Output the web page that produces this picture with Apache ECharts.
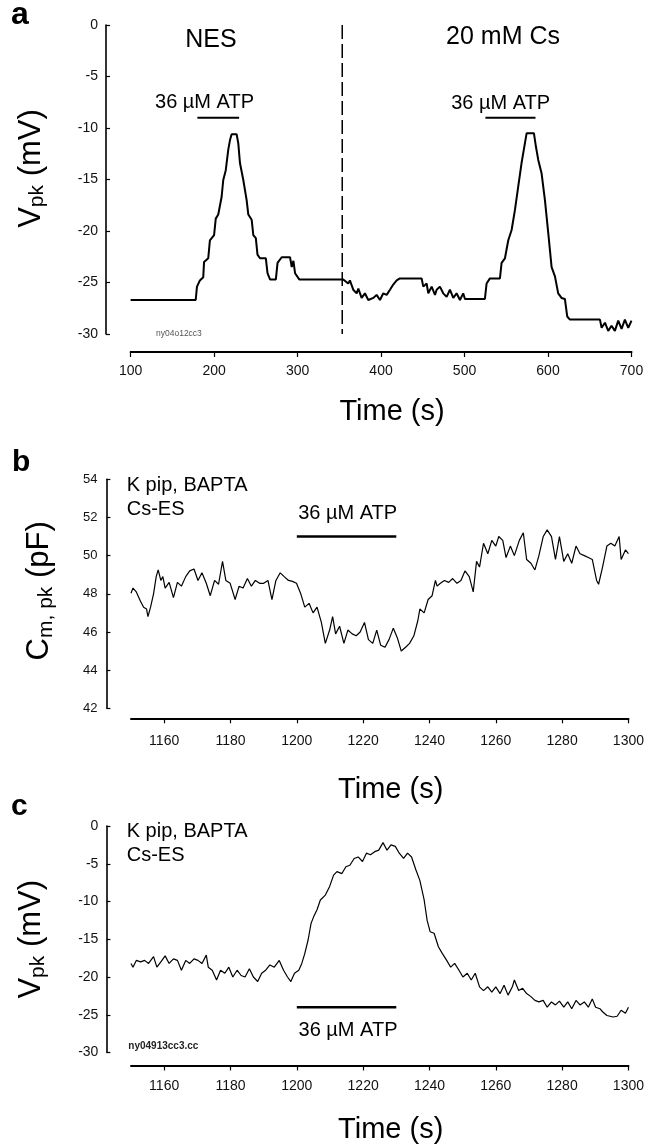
<!DOCTYPE html>
<html>
<head>
<meta charset="utf-8">
<script src="https://cdn.jsdelivr.net/npm/echarts@6/dist/echarts.min.js"></script>
<style>
html,body{margin:0;padding:0;background:#fff;}
#chart{width:647px;height:1148px;}
</style>
</head>
<body>
<div id="chart"></div>
<script>
// ---------- DATA ----------
// Panel a: Vpk (mV) vs time (s)
const panelA = [
  [100,-26.7],[178,-26.7],[179.5,-25.4],[183,-24.8],[187,-24.5],[188,-23.0],[193,-22.65],[195,-20.9],
  [200,-20.4],[202,-18.8],[205,-18.4],[209,-16.7],[211,-15.05],[214,-14.1],[217,-12.1],[219,-11.2],
  [221,-10.6],[227,-10.6],[229,-11.5],[231,-13.4],[235,-15.05],[239,-17.0],[241,-18.4],[245,-18.9],
  [247,-20.4],[250,-20.7],[252,-22.3],[255,-22.65],[262,-22.65],[264,-24.1],[267,-24.7],[274,-24.7],
  [276,-23.1],[281,-22.55],[291,-22.55],[293,-23.5],[295,-22.9],[297,-24.1],[299,-24.0],[302,-24.7],
  [354.7,-24.7],[360.7,-25.1],[362.7,-24.8],[366.7,-25.7],[370.8,-26.05],[372.8,-25.6],[376.7,-26.5],
  [380.7,-26.05],[384.7,-26.7],[390.7,-26.5],[394.7,-26.2],[398.7,-26.7],[402.7,-26.05],[406.7,-26.2],
  [410.7,-25.7],[414.6,-25.2],[418.7,-24.8],[422.6,-24.6],[448.6,-24.6],[450.6,-25.4],[454.6,-25.1],
  [456.6,-26.05],[460.6,-25.4],[464.6,-26.2],[466.6,-25.7],[470.5,-25.4],[474.5,-26.05],[478.6,-26.4],
  [482.5,-25.7],[486.5,-26.5],[490.5,-26.05],[494.5,-26.7],[498.4,-26.05],[500.5,-26.6],[524.4,-26.6],
  [526.4,-25.1],[530.4,-24.6],[542.4,-24.6],[544.4,-23.1],[548.4,-22.65],[552.4,-20.9],[556.4,-19.9],
  [560.3,-18.0],[564.3,-15.7],[568.3,-13.4],[572.3,-11.5],[574.4,-10.5],[583.1,-10.5],[585.5,-11.8],
  [588.3,-13.1],[592.3,-14.4],[596.3,-17.0],[600.3,-20.2],[604.3,-23.5],[608.3,-24.4],[612.2,-26.05],
  [616.2,-26.5],[620.2,-26.6],[623,-28.3],[626.2,-28.6],[662.2,-28.6],[664.2,-29.4],[668.2,-28.9],
  [672.1,-29.7],[676.1,-29.2],[680.1,-29.7],[684.1,-28.7],[688.1,-29.5],[692.1,-28.6],[696.1,-29.4],
  [700,-28.7]
];
const solutionSwitchA = [[353.5, 0], [353.5, -30]];
const atpBarA1 = [[180, -9], [230, -9]];
const atpBarA2 = [[525, -9], [585, -9]];

// Panel b: Cm,pk (pF) vs time (s)
const panelB = [
  [1150,48.03],[1150.6,48.3],[1151.6,48.1],[1152.9,47.6],[1153.8,47.3],[1154.7,47.2],[1155.1,46.8],
  [1155.9,47.3],[1156.8,48.0],[1157.6,48.9],[1158.2,49.25],[1159,48.7],[1159.6,48.9],[1160.3,48.3],
  [1161.5,48.6],[1162.8,47.8],[1164,48.6],[1165.2,48.4],[1166.5,48.9],[1167.7,49.2],[1169,49.3],
  [1170.2,48.7],[1171.4,49.1],[1172.7,48.55],[1173.9,47.9],[1175.2,48.7],[1176.4,48.5],[1177.6,49.7],
  [1178.6,48.7],[1179.9,48.55],[1181.4,47.7],[1182.6,48.4],[1183.8,48.3],[1185.1,48.8],[1186.3,48.4],
  [1187.5,48.7],[1188.8,48.55],[1190,48.55],[1191.3,48.7],[1192.5,47.7],[1193.7,48.7],[1195,49.1],
  [1196.2,48.9],[1197.5,48.7],[1198.7,48.65],[1199.9,48.55],[1201.2,48.0],[1202.4,47.3],[1203.7,47.5],
  [1204.9,47.0],[1206.1,47.3],[1207.4,46.5],[1208.6,45.4],[1209.9,46.1],[1210.8,46.8],[1211.7,45.9],
  [1212.9,46.3],[1214.2,45.4],[1215.4,46.1],[1216.7,45.9],[1217.9,45.8],[1219.1,46.0],[1220.4,46.5],
  [1221.6,45.6],[1222.9,45.4],[1224.1,46.1],[1225.3,45.3],[1226.6,45.2],[1227.8,45.6],[1229.1,46.2],
  [1230.3,45.7],[1231.5,45.0],[1232.8,45.2],[1234,45.4],[1235.3,45.8],[1236.5,46.6],[1237.1,47.2],
  [1238.4,47.0],[1239.6,47.7],[1240.8,47.9],[1241.8,48.7],[1242.3,48.4],[1243.3,48.55],[1244.5,48.7],
  [1245.8,48.6],[1247,48.8],[1248.3,48.55],[1249.5,48.7],[1250.7,49.2],[1252,48.9],[1253.2,48.1],
  [1254.2,49.7],[1255.1,49.4],[1256.3,50.65],[1257.6,50.1],[1258.8,50.8],[1260,50.5],[1260.9,51.0],
  [1262.1,50.8],[1263.1,49.9],[1264.4,50.5],[1265.6,50.0],[1267.1,50.8],[1268.3,51.2],[1269.3,49.8],
  [1270.6,49.6],[1271.8,49.25],[1273,50.0],[1274.3,51.0],[1275.5,51.35],[1276.8,51.0],[1278,49.8],
  [1279.2,51.0],[1280.5,49.7],[1281.7,50.1],[1282.9,49.6],[1284.2,50.5],[1285.4,50.1],[1286.7,50.0],
  [1287.9,49.9],[1289.1,49.8],[1290.4,48.7],[1291,48.5],[1292.2,49.4],[1293.5,50.5],[1294.7,50.65],
  [1295.9,50.5],[1297.2,51.0],[1297.8,49.8],[1299.1,50.3],[1300,50.1]
];
const atpBarB = [[1200, 51], [1230, 51]];

// Panel c: Vpk (mV) vs time (s)
const panelC = [
  [1150,-18.2],[1150.6,-18.7],[1151.6,-17.8],[1152.9,-18.0],[1154.1,-17.8],[1155.3,-18.2],[1156.8,-17.3],
  [1157.8,-18.7],[1159,-18.0],[1160.3,-17.2],[1161.5,-18.2],[1162.8,-17.6],[1164,-17.8],[1165.2,-19.1],
  [1166.5,-17.8],[1167.7,-18.2],[1169,-17.6],[1170.2,-17.8],[1171.4,-18.2],[1172.7,-17.1],[1173.3,-18.7],
  [1174.5,-19.1],[1175.8,-20.4],[1177,-19.1],[1178.3,-19.5],[1179.5,-18.7],[1180.7,-20.0],[1182,-19.1],
  [1183.2,-19.8],[1184.4,-20.0],[1185.7,-18.9],[1186.9,-20.0],[1188.2,-20.6],[1189.4,-19.5],[1190.6,-19.1],
  [1191.9,-18.4],[1193.2,-18.7],[1194.7,-17.8],[1196,-19.1],[1197.2,-20.0],[1198.2,-20.6],[1199.3,-19.5],
  [1200.6,-19.1],[1201.5,-18.2],[1202.4,-16.9],[1203.4,-15.1],[1204.3,-12.9],[1205.1,-12.0],[1206.1,-11.1],
  [1207.1,-9.8],[1208.6,-9.15],[1209.9,-8.0],[1211.1,-6.5],[1212.1,-6.05],[1213.6,-6.3],[1214.8,-5.4],
  [1216,-5.2],[1217.3,-4.3],[1218.5,-4.1],[1219.8,-4.7],[1221,-3.6],[1222.2,-3.8],[1223.5,-3.4],
  [1224.7,-3.2],[1226,-2.2],[1227.2,-3.2],[1228.4,-2.5],[1229.7,-2.7],[1230.9,-3.6],[1232.2,-4.3],
  [1233.4,-3.6],[1234.6,-4.1],[1235.9,-5.8],[1237.1,-7.2],[1238.4,-9.8],[1239.3,-12.5],[1240.2,-14.0],
  [1241.4,-14.2],[1242.7,-16.0],[1243.9,-16.9],[1245.2,-17.8],[1246.4,-18.7],[1247.6,-18.2],[1248.9,-19.1],
  [1250.1,-20.0],[1251.4,-19.5],[1252.6,-20.4],[1253.8,-19.5],[1255.1,-21.3],[1256.3,-21.8],[1257.6,-21.3],
  [1258.8,-22.0],[1260,-21.3],[1261.3,-22.2],[1262.5,-21.1],[1263.7,-22.4],[1265,-21.3],[1265.6,-20.4],
  [1266.9,-21.8],[1268.1,-21.5],[1269.3,-22.2],[1270.6,-22.6],[1271.8,-23.1],[1273,-23.3],[1274.3,-23.1],
  [1275.5,-24.0],[1276.8,-23.3],[1278,-23.7],[1279.2,-23.2],[1280.5,-24.0],[1281.7,-23.3],[1282.9,-24.2],
  [1284.2,-23.1],[1285.4,-23.7],[1286.7,-23.3],[1287.9,-24.0],[1289.1,-22.9],[1290.1,-24.0],[1291.4,-24.2],
  [1292.2,-24.6],[1293.5,-25.1],[1295.4,-25.3],[1296.6,-25.2],[1297.8,-24.4],[1299.1,-24.8],[1300,-24.0]
];
const atpBarC = [[1200, -24], [1230, -24]];

// Tick values
const xTicksA = [100, 700, 100];          // min, max, interval
const xTicksBC = [1160, 1180, 1200, 1220, 1240, 1260, 1280, 1300];
const yTicksA = [-30, 0, 5];
const yTicksB = [42, 54, 2];
const yTicksC = [-30, 0, 5];

// ---------- CHART ----------
const FONT = 'Liberation Sans, Arial, Helvetica, sans-serif';
const chart = echarts.init(document.getElementById('chart'), null, {renderer: 'canvas'});

function yName(main, sub, tail) {
  return '{m|' + main + '}{s|' + sub + '}{m|' + tail + '}';
}
function yNameStyle(pad) {
  return {
    fontFamily: FONT, color: '#000', padding: pad,
    rich: {
      m: {fontSize: 31, fontFamily: FONT, color: '#000', lineHeight: 32, verticalAlign: 'top'},
      s: {fontSize: 21, fontFamily: FONT, color: '#000', lineHeight: 21, padding: [17, 0, 0, 0], verticalAlign: 'bottom'}
    }
  };
}
const plainNum = function (v) { return String(v); };
const xNameStyle = {fontSize: 29, color: '#000', fontFamily: FONT, padding: [0, 0, 0, 22]};

function xAxisDef(grid, min, max, opts) {
  return Object.assign({
    type: 'value', gridIndex: grid, min: min, max: max,
    axisLine: {show: true, onZero: false, lineStyle: {color: '#000', width: 2}},
    axisTick: {show: true, inside: false, length: 5, lineStyle: {color: '#000', width: 1.2}},
    splitLine: {show: false},
    name: 'Time (s)', nameLocation: 'middle',
    nameTextStyle: xNameStyle
  }, opts);
}
function yAxisDef(grid, min, max, interval, opts) {
  return Object.assign({
    type: 'value', gridIndex: grid, min: min, max: max, interval: interval,
    axisLine: {show: true, onZero: false, lineStyle: {color: '#000', width: 1.6}},
    axisTick: {show: true, inside: true, length: 4, lineStyle: {color: '#000', width: 1.2}},
    splitLine: {show: false},
    nameLocation: 'middle', nameRotate: 90
  }, opts);
}

function lineSeries(xi, data, width, extra) {
  return Object.assign({
    type: 'line', xAxisIndex: xi, yAxisIndex: xi, data: data,
    showSymbol: false, symbol: 'none', smooth: false, silent: true,
    lineStyle: {color: '#000', width: width}
  }, extra || {});
}

const option = {
  animation: false,
  backgroundColor: '#fff',
  grid: [
    {left: 130.6, right: 15.5, top: 25, height: 309},
    {left: 131, right: 15.5, top: 479.3, height: 229},
    {left: 131, right: 15.5, top: 826, height: 226.5}
  ],
  xAxis: [
    xAxisDef(0, xTicksA[0], xTicksA[1], {interval: xTicksA[2], offset: 18, nameGap: 45,
      axisLabel: {fontSize: 14, color: '#111', fontFamily: FONT, margin: 12, formatter: plainNum}}),
    xAxisDef(1, 1150, 1300, {offset: 10, nameGap: 57,
      axisTick: {show: true, inside: false, length: 5, customValues: xTicksBC, lineStyle: {color: '#000', width: 1.2}},
      axisLabel: {fontSize: 14, color: '#111', fontFamily: FONT, margin: 16, customValues: xTicksBC, formatter: plainNum}}),
    xAxisDef(2, 1150, 1300, {offset: 13, nameGap: 50,
      axisTick: {show: true, inside: false, length: 5, customValues: xTicksBC, lineStyle: {color: '#000', width: 1.2}},
      axisLabel: {fontSize: 14, color: '#111', fontFamily: FONT, margin: 14, customValues: xTicksBC, formatter: plainNum}})
  ],
  yAxis: [
    yAxisDef(0, yTicksA[0], yTicksA[1], yTicksA[2], {offset: 24.6, nameGap: 58,
      name: yName('V', 'pk', ' (mV)'), nameTextStyle: yNameStyle([0, 0, 0, 22]),
      axisLabel: {fontSize: 14, color: '#111', fontFamily: FONT, margin: 8}}),
    yAxisDef(1, yTicksB[0], yTicksB[1], yTicksB[2], {offset: 24.6, nameGap: 50,
      name: yName('C', 'm, pk', ' (pF)'), nameTextStyle: yNameStyle([0, 0, 0, 6]),
      axisLabel: {fontSize: 13, color: '#111', fontFamily: FONT, margin: 9}}),
    yAxisDef(2, yTicksC[0], yTicksC[1], yTicksC[2], {offset: 24.6, nameGap: 58,
      name: yName('V', 'pk', ' (mV)'), nameTextStyle: yNameStyle([0, 0, 0, 0]),
      axisLabel: {fontSize: 14, color: '#111', fontFamily: FONT, margin: 8}})
  ],
  series: [
    lineSeries(0, panelA, 2),
    lineSeries(0, solutionSwitchA, 1.5, {lineStyle: {color: '#000', width: 1.5, type: [14, 5]}}),
    lineSeries(0, atpBarA1, 2),
    lineSeries(0, atpBarA2, 2),
    lineSeries(1, panelB, 1.2),
    lineSeries(1, atpBarB, 2.5),
    lineSeries(2, panelC, 1.2),
    lineSeries(2, atpBarC, 2.5)
  ],
  graphic: [
    {type: 'text', x: 11, y: 15, style: {text: 'a', fontSize: 32, fontWeight: 'bold', fontFamily: FONT, fill: '#000', align: 'left', verticalAlign: 'middle'}},
    {type: 'text', x: 12, y: 463, style: {text: 'b', fontSize: 30, fontWeight: 'bold', fontFamily: FONT, fill: '#000', align: 'left', verticalAlign: 'middle'}},
    {type: 'text', x: 11, y: 807, style: {text: 'c', fontSize: 30, fontWeight: 'bold', fontFamily: FONT, fill: '#000', align: 'left', verticalAlign: 'middle'}},
    {type: 'text', x: 211, y: 40, style: {text: 'NES', fontSize: 25, fontFamily: FONT, fill: '#000', align: 'center', verticalAlign: 'middle'}},
    {type: 'text', x: 503, y: 37, style: {text: '20 mM Cs', fontSize: 25, fontFamily: FONT, fill: '#000', align: 'center', verticalAlign: 'middle'}},
    {type: 'text', x: 204.5, y: 102, style: {text: '36 µM ATP', fontSize: 20, fontFamily: FONT, fill: '#000', align: 'center', verticalAlign: 'middle'}},
    {type: 'text', x: 500.7, y: 103, style: {text: '36 µM ATP', fontSize: 20, fontFamily: FONT, fill: '#000', align: 'center', verticalAlign: 'middle'}},
    {type: 'text', x: 156, y: 334, style: {text: 'ny04o12cc3', fontSize: 8.5, fontFamily: FONT, fill: '#555', align: 'left', verticalAlign: 'middle'}},
    {type: 'text', x: 126.7, y: 485, style: {text: 'K pip, BAPTA', fontSize: 20, fontFamily: FONT, fill: '#000', align: 'left', verticalAlign: 'middle'}},
    {type: 'text', x: 126.7, y: 509, style: {text: 'Cs-ES', fontSize: 20, fontFamily: FONT, fill: '#000', align: 'left', verticalAlign: 'middle'}},
    {type: 'text', x: 347.7, y: 513, style: {text: '36 µM ATP', fontSize: 20, fontFamily: FONT, fill: '#000', align: 'center', verticalAlign: 'middle'}},
    {type: 'text', x: 126.7, y: 831.7, style: {text: 'K pip, BAPTA', fontSize: 20, fontFamily: FONT, fill: '#000', align: 'left', verticalAlign: 'middle'}},
    {type: 'text', x: 126.7, y: 855, style: {text: 'Cs-ES', fontSize: 20, fontFamily: FONT, fill: '#000', align: 'left', verticalAlign: 'middle'}},
    {type: 'text', x: 348, y: 1030, style: {text: '36 µM ATP', fontSize: 20, fontFamily: FONT, fill: '#000', align: 'center', verticalAlign: 'middle'}},
    {type: 'text', x: 128.3, y: 1046.7, style: {text: 'ny04913cc3.cc', fontSize: 10, fontWeight: 'bold', fontFamily: FONT, fill: '#222', align: 'left', verticalAlign: 'middle'}}
  ]
};
chart.setOption(option);
</script>
</body>
</html>
